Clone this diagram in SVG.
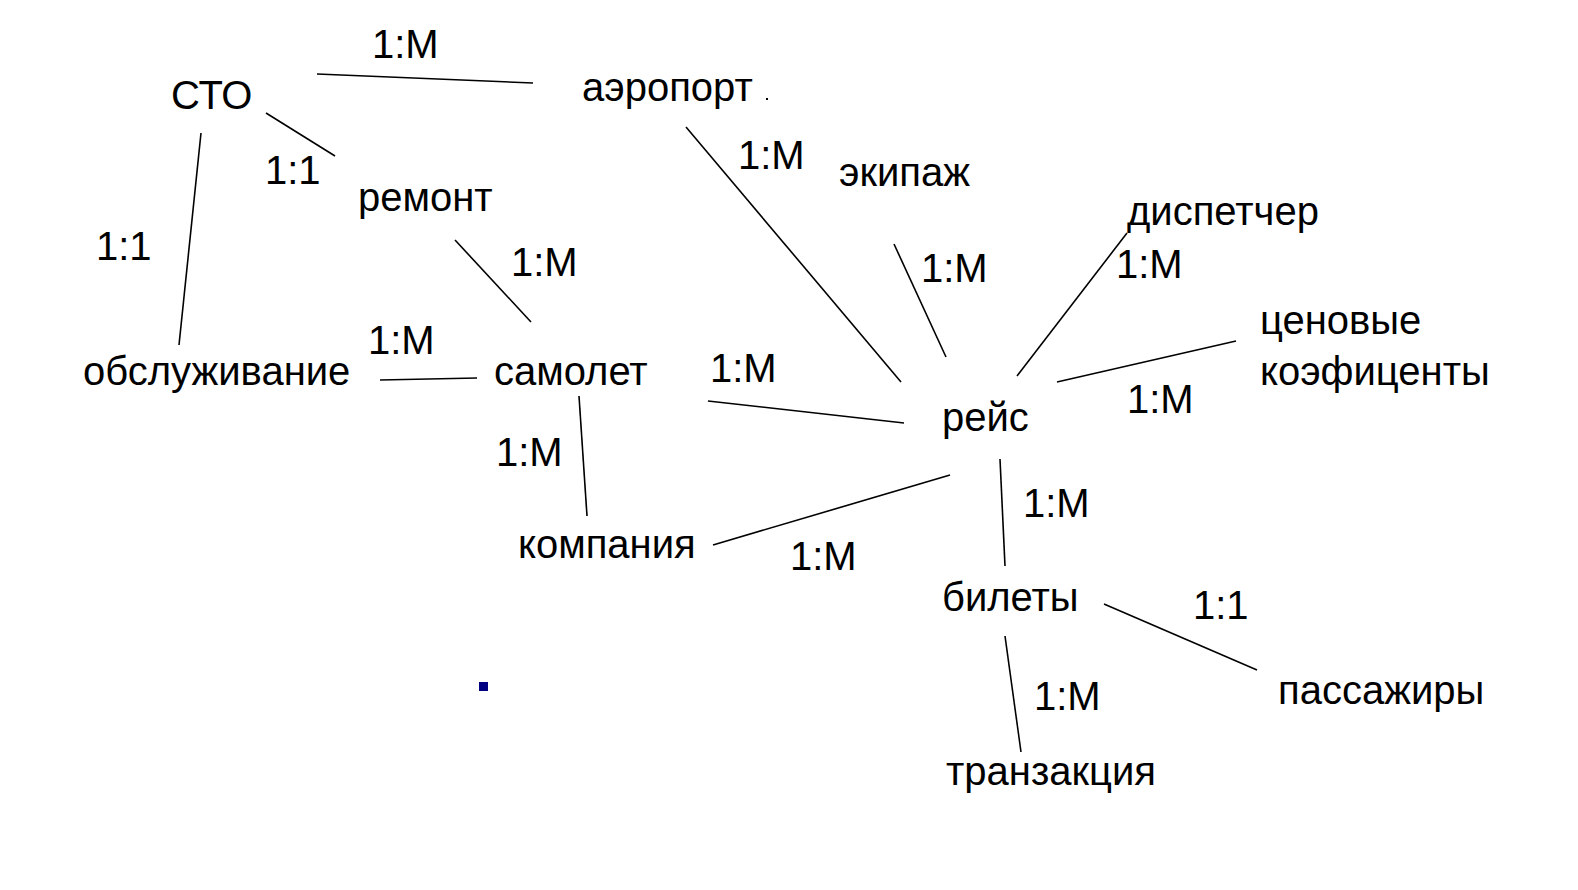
<svg xmlns="http://www.w3.org/2000/svg" width="1578" height="890" viewBox="0 0 1578 890">
<style>
text{font-family:"Liberation Sans",Arial,sans-serif;font-size:40px;fill:#000}
.c line{stroke:#000;stroke-width:1.6}
</style>
<rect width="1578" height="890" fill="#fff"/>
<g id="connectors" class="c">
<line x1="317" y1="74" x2="533" y2="83"/>
<line x1="266" y1="113" x2="335" y2="156"/>
<line x1="201" y1="133" x2="179" y2="345"/>
<line x1="455" y1="240" x2="531" y2="322"/>
<line x1="380" y1="380" x2="477" y2="378"/>
<line x1="579" y1="396" x2="587" y2="516"/>
<line x1="686" y1="127" x2="901" y2="382"/>
<line x1="894" y1="244" x2="946" y2="357"/>
<line x1="1127" y1="233" x2="1017" y2="376"/>
<line x1="1236" y1="341" x2="1057" y2="382"/>
<line x1="708" y1="401" x2="904" y2="423"/>
<line x1="713" y1="545" x2="950" y2="475"/>
<line x1="1000" y1="459" x2="1005" y2="566"/>
<line x1="1104" y1="604" x2="1257" y2="670"/>
<line x1="1005" y1="636" x2="1021" y2="752"/>
</g>
<g id="labels">
<text x="372" y="58">1:M</text>
<text x="265" y="184">1:1</text>
<text x="96" y="260">1:1</text>
<text x="511" y="276">1:M</text>
<text x="368" y="354">1:M</text>
<text x="496" y="466">1:M</text>
<text x="790" y="570">1:M</text>
<text x="738" y="169">1:M</text>
<text x="921" y="282">1:M</text>
<text x="1116" y="278">1:M</text>
<text x="710" y="382">1:M</text>
<text x="1127" y="413">1:M</text>
<text x="1023" y="517">1:M</text>
<text x="1193" y="619">1:1</text>
<text x="1034" y="710">1:M</text>
</g>
<g id="n-sto"><text x="171" y="109">СТО</text></g>
<g id="n-aeroport"><text x="582" y="101">аэропорт</text><rect x="766" y="98" width="2" height="2" fill="#000"/></g>
<g id="n-remont"><text x="358" y="211">ремонт</text></g>
<g id="n-obsl"><text x="83" y="385">обслуживание</text></g>
<g id="n-samolet"><text x="494" y="385">самолет</text></g>
<g id="n-kompania"><text x="518" y="558">компания</text></g>
<g id="n-ekipazh"><text x="839" y="186">экипаж</text></g>
<g id="n-dispetcher"><text x="1127" y="225">диспетчер</text></g>
<g id="n-cenovye"><text x="1260" y="334">ценовые</text><text x="1260" y="385">коэфиценты</text></g>
<g id="n-reis"><text x="942" y="431">рейс</text></g>
<g id="n-bilety"><text x="942" y="611">билеты</text></g>
<g id="n-passazhiry"><text x="1278" y="704">пассажиры</text></g>
<g id="n-tranzakcia"><text x="946" y="785">транзакция</text></g>
<rect id="marker-square" x="479" y="682" width="9" height="9" fill="#000080"/>
</svg>
